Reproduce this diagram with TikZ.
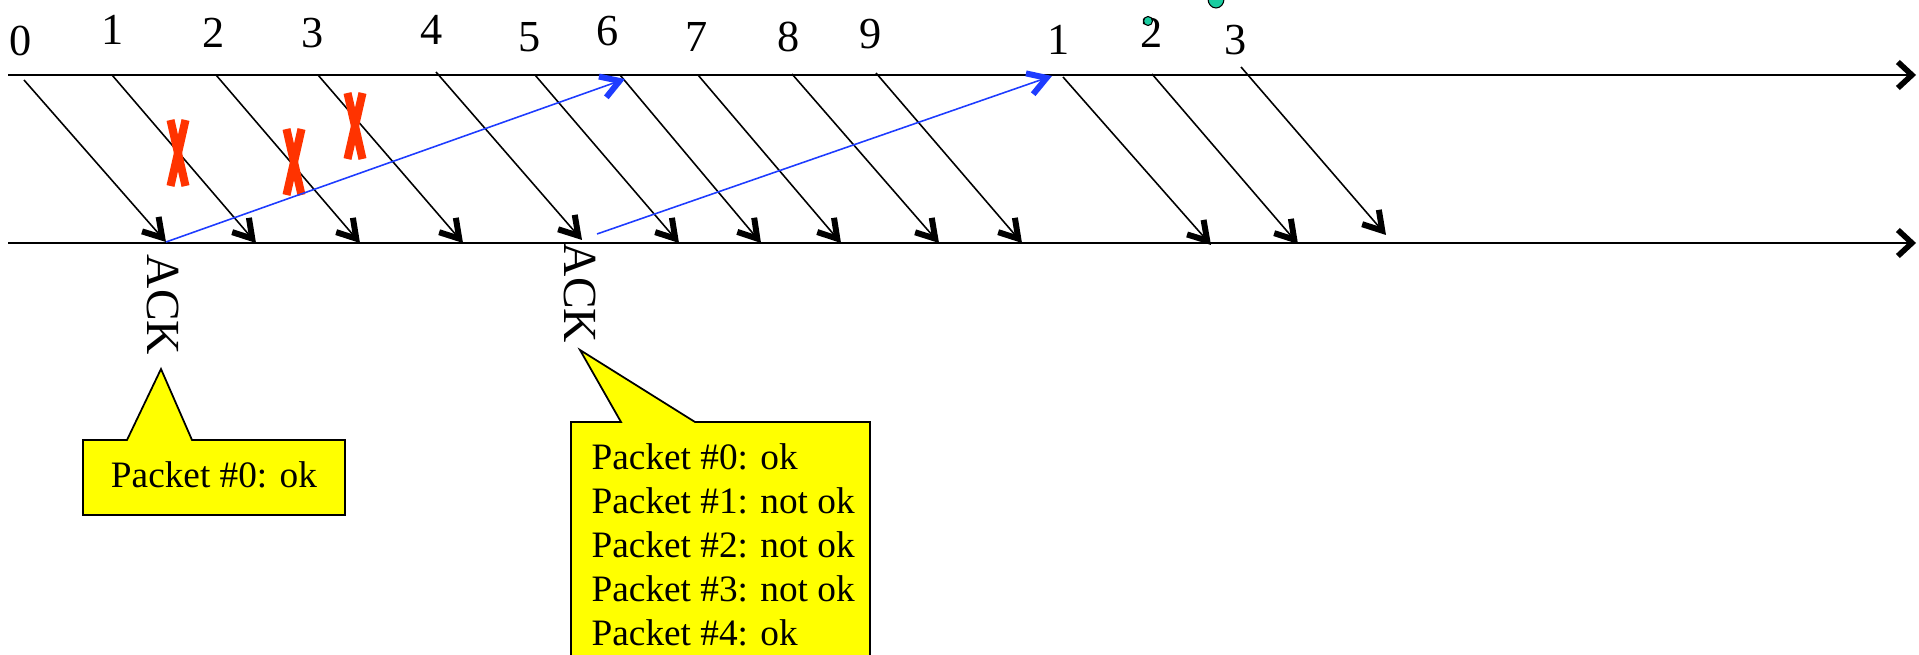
\documentclass[tikz,border=0pt]{standalone}
\usepackage{fontspec}
\setmainfont{Liberation Serif}
\usetikzlibrary{arrows.meta}
\definecolor{lossred}{HTML}{FF3300}
\definecolor{ackblue}{HTML}{1E3CFF}
\definecolor{noteyellow}{HTML}{FFFF00}
\definecolor{dotteal}{HTML}{1ACCA0}
\tikzset{
  barb/.style={-{Straight Barb[length=1.8mm,width=2.2mm,line width=1.7pt]}},
  timeline/.style={-{Straight Barb[length=1.4mm,width=2.6mm,line width=1.6pt]},line width=0.6pt},
  pktarr/.style={barb,line width=0.45pt},
  ackarr/.style={barb,color=ackblue,line width=0.45pt},
  seqlabel/.style={font=\fontsize{12.6}{14}\selectfont,inner sep=0pt},
  acklabel/.style={font=\fontsize{13.5}{15}\selectfont,inner sep=0pt,rotate=-90},
  lossmark/.style={lossred,line width=2.3pt},
  notebox/.style={draw=black,fill=noteyellow,line width=0.5pt,line join=miter},
  notetext/.style={font=\fontsize{10.6}{12.5}\selectfont,inner sep=0pt,align=left}
}

\begin{document}
\begin{tikzpicture}[x=0.01cm,y=-0.01cm]
  \useasboundingbox (0,0) rectangle (1919,655);
  \clip (0,0) rectangle (1919,655);

  % sender and receiver time axes
  \coordinate (sndA) at (8,75);
  \coordinate (sndB) at (1916,75);
  \coordinate (rcvA) at (8,243);
  \coordinate (rcvB) at (1916,243);
  \draw[timeline] (sndA) -- (sndB);
  \draw[timeline] (rcvA) -- (rcvB);

  % packets
  \foreach \i/\t/\sx/\sy/\ex/\ey/\lx/\ly in {
      0/0/24/80/166/242/21/41,
      1/1/112/75/256/243/113/30,
      2/2/216/75/360/243/214/33,
      3/3/318/75/463/243/313/33,
      4/4/436/72/582/240/432/30,
      5/5/535/75/679/243/530/37,
      6/6/620/75/761/243/608/31,
      7/7/698/75/841/243/697/37,
      8/8/792/74/939/243/789/37,
      9/9/876/73/1022/243/871/34,
      10/1/1063/77/1211/245/1059/40,
      11/2/1152/74/1298/244/1152/33,
      12/3/1241/67/1386/235/1236/40} {
    \node[seqlabel] (n\i) at (\lx,\ly) {\t};
    \coordinate (s\i) at (\sx,\sy);
    \coordinate (e\i) at (\ex,\ey);
    \draw[pktarr] (s\i) -- (e\i);
  }

  % lost packets
  \foreach \cx/\cy in {178/153,294/162,355/126} {
    \draw[lossmark] (\cx-7.5,\cy-33) -- (\cx+7.5,\cy+33);
    \draw[lossmark] (\cx+7.5,\cy-33) -- (\cx-7.5,\cy+33);
  }

  % acknowledgements
  \coordinate (ack1to) at (625,79);
  \coordinate (ack2from) at (597,234);
  \coordinate (ack2to) at (1052,76);
  \draw[ackarr] (e0) -- (ack1to);
  \draw[ackarr] (ack2from) -- (ack2to);
  \node[acklabel] (ack1) at (163,305) {ACK};
  \node[acklabel] (ack2) at (580,293) {ACK};

  % callouts
  \draw[notebox] (83,440) -- (127,440) -- (161,369) -- (192,440) -- (345,440)
    -- (345,515) -- (83,515) -- cycle;
  \node[notetext,anchor=base] (note1) at (214,487) {Packet \#0: ok};
  \draw[notebox] (571,422) -- (621,422) -- (580,350) -- (695,422) -- (870,422)
    -- (870,700) -- (571,700) -- cycle;
  \node[notetext,anchor=north west] (note2) at (591,443) {Packet \#0: ok\\
    Packet \#1: not ok\\ Packet \#2: not ok\\ Packet \#3: not ok\\ Packet \#4: ok};

  % stray dots
  \filldraw[fill=dotteal,draw=black,line width=0.3pt] (1148,21) circle (0.045cm);
  \filldraw[fill=dotteal,draw=black,line width=0.3pt] (1216,-1) ellipse (0.08cm and 0.09cm);
\end{tikzpicture}
\end{document}
